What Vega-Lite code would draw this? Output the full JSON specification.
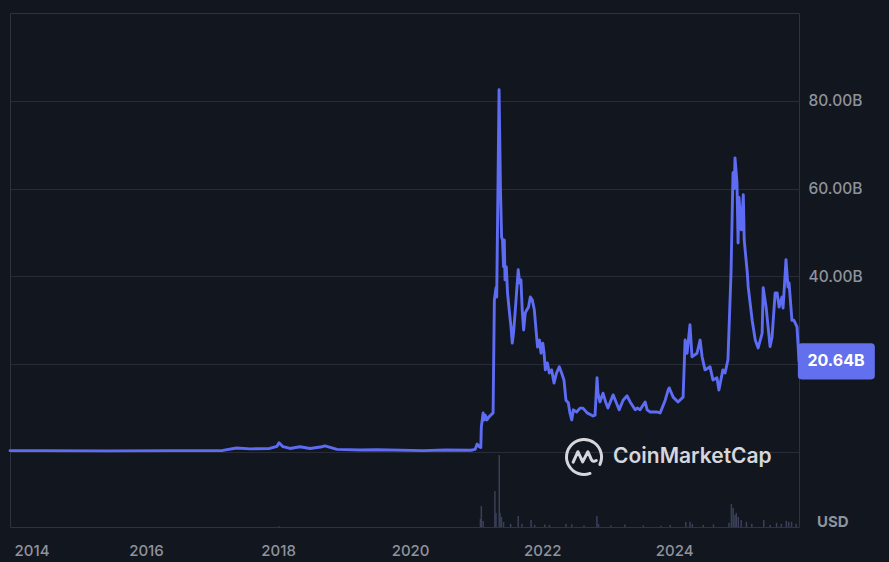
{
  "$schema": "https://vega.github.io/schema/vega-lite/v6.json",
  "width": 789,
  "height": 514,
  "autosize": {"type": "none"},
  "padding": {"left": 10, "top": 13, "right": 90, "bottom": 35},
  "background": "#12161f",
  "config": {
    "view": {"stroke": "#2f3340", "strokeWidth": 1},
    "font": "Inter"
  },
  "datasets": {
    "price": [
      {"date": "2013-12-10", "value": 0.3},
      {"date": "2014-06-01", "value": 0.3},
      {"date": "2015-06-01", "value": 0.25},
      {"date": "2016-06-01", "value": 0.3},
      {"date": "2017-03-01", "value": 0.35},
      {"date": "2017-05-17", "value": 0.9},
      {"date": "2017-08-01", "value": 0.7},
      {"date": "2017-11-15", "value": 0.8},
      {"date": "2017-12-26", "value": 1.3},
      {"date": "2018-01-06", "value": 2.1},
      {"date": "2018-01-28", "value": 1.2},
      {"date": "2018-03-08", "value": 0.8},
      {"date": "2018-05-01", "value": 1.2},
      {"date": "2018-06-27", "value": 0.8},
      {"date": "2018-09-01", "value": 1.2},
      {"date": "2018-09-17", "value": 1.4},
      {"date": "2018-11-23", "value": 0.6},
      {"date": "2019-04-01", "value": 0.45},
      {"date": "2019-07-01", "value": 0.5},
      {"date": "2020-03-15", "value": 0.3},
      {"date": "2020-07-15", "value": 0.45},
      {"date": "2020-12-01", "value": 0.4},
      {"date": "2020-12-26", "value": 0.6},
      {"date": "2021-01-06", "value": 1.8},
      {"date": "2021-01-17", "value": 1.2},
      {"date": "2021-01-26", "value": 1.0},
      {"date": "2021-01-29", "value": 5.7},
      {"date": "2021-02-08", "value": 8.9},
      {"date": "2021-02-15", "value": 7.3},
      {"date": "2021-02-20", "value": 8.4},
      {"date": "2021-03-01", "value": 7.3},
      {"date": "2021-03-12", "value": 8.0},
      {"date": "2021-04-04", "value": 8.9},
      {"date": "2021-04-11", "value": 34.6},
      {"date": "2021-04-20", "value": 37.4},
      {"date": "2021-04-24", "value": 35.3},
      {"date": "2021-05-07", "value": 82.5},
      {"date": "2021-05-15", "value": 59.7},
      {"date": "2021-05-21", "value": 49.0},
      {"date": "2021-05-26", "value": 48.3},
      {"date": "2021-06-01", "value": 42.2},
      {"date": "2021-06-05", "value": 48.3},
      {"date": "2021-06-09", "value": 39.2},
      {"date": "2021-06-16", "value": 42.2},
      {"date": "2021-06-23", "value": 36.2},
      {"date": "2021-07-02", "value": 32.4},
      {"date": "2021-07-12", "value": 28.5},
      {"date": "2021-07-19", "value": 24.8},
      {"date": "2021-07-26", "value": 27.1},
      {"date": "2021-08-05", "value": 32.4},
      {"date": "2021-08-14", "value": 37.6},
      {"date": "2021-08-21", "value": 41.5},
      {"date": "2021-08-29", "value": 38.5},
      {"date": "2021-09-05", "value": 39.2},
      {"date": "2021-09-12", "value": 32.4},
      {"date": "2021-09-20", "value": 27.8},
      {"date": "2021-09-29", "value": 31.7},
      {"date": "2021-10-08", "value": 32.4},
      {"date": "2021-10-17", "value": 33.0},
      {"date": "2021-10-27", "value": 35.3},
      {"date": "2021-11-07", "value": 34.6},
      {"date": "2021-11-18", "value": 32.4},
      {"date": "2021-11-29", "value": 27.1},
      {"date": "2021-12-06", "value": 23.9},
      {"date": "2021-12-17", "value": 25.5},
      {"date": "2021-12-25", "value": 22.5},
      {"date": "2022-01-04", "value": 24.8},
      {"date": "2022-01-11", "value": 22.5},
      {"date": "2022-01-18", "value": 18.7},
      {"date": "2022-01-29", "value": 20.3},
      {"date": "2022-02-09", "value": 18.0},
      {"date": "2022-02-22", "value": 18.7},
      {"date": "2022-03-07", "value": 15.7},
      {"date": "2022-03-21", "value": 18.0},
      {"date": "2022-04-05", "value": 19.4},
      {"date": "2022-04-18", "value": 18.0},
      {"date": "2022-05-01", "value": 16.4},
      {"date": "2022-05-12", "value": 11.8},
      {"date": "2022-05-25", "value": 11.2},
      {"date": "2022-06-03", "value": 8.9},
      {"date": "2022-06-13", "value": 7.3},
      {"date": "2022-06-22", "value": 9.6},
      {"date": "2022-07-10", "value": 9.1},
      {"date": "2022-07-29", "value": 10.0},
      {"date": "2022-08-14", "value": 10.0},
      {"date": "2022-09-06", "value": 8.9},
      {"date": "2022-10-09", "value": 8.2},
      {"date": "2022-10-20", "value": 8.4},
      {"date": "2022-10-31", "value": 16.9},
      {"date": "2022-11-05", "value": 13.4},
      {"date": "2022-11-16", "value": 11.4},
      {"date": "2022-12-03", "value": 13.4},
      {"date": "2022-12-19", "value": 11.2},
      {"date": "2022-12-30", "value": 10.0},
      {"date": "2023-01-28", "value": 13.0},
      {"date": "2023-02-13", "value": 11.4},
      {"date": "2023-03-02", "value": 9.6},
      {"date": "2023-03-24", "value": 11.8},
      {"date": "2023-04-15", "value": 12.8},
      {"date": "2023-05-02", "value": 11.4},
      {"date": "2023-05-30", "value": 9.6},
      {"date": "2023-06-10", "value": 10.0},
      {"date": "2023-06-26", "value": 9.6},
      {"date": "2023-07-24", "value": 11.4},
      {"date": "2023-08-04", "value": 9.6},
      {"date": "2023-08-21", "value": 9.1},
      {"date": "2023-09-29", "value": 9.1},
      {"date": "2023-10-15", "value": 8.9},
      {"date": "2023-11-12", "value": 11.8},
      {"date": "2023-11-28", "value": 14.1},
      {"date": "2023-12-04", "value": 14.6},
      {"date": "2023-12-26", "value": 12.5},
      {"date": "2024-01-22", "value": 11.4},
      {"date": "2024-02-19", "value": 12.5},
      {"date": "2024-03-01", "value": 25.5},
      {"date": "2024-03-12", "value": 22.5},
      {"date": "2024-03-28", "value": 29.0},
      {"date": "2024-04-08", "value": 21.7},
      {"date": "2024-05-06", "value": 22.5},
      {"date": "2024-05-23", "value": 25.5},
      {"date": "2024-06-03", "value": 21.7},
      {"date": "2024-06-19", "value": 18.7},
      {"date": "2024-07-17", "value": 19.4},
      {"date": "2024-08-02", "value": 16.4},
      {"date": "2024-08-24", "value": 16.9},
      {"date": "2024-09-04", "value": 14.1},
      {"date": "2024-09-26", "value": 18.7},
      {"date": "2024-10-08", "value": 18.0},
      {"date": "2024-10-24", "value": 21.0},
      {"date": "2024-11-10", "value": 40.8},
      {"date": "2024-11-21", "value": 63.6},
      {"date": "2024-11-28", "value": 60.0},
      {"date": "2024-12-02", "value": 67.0},
      {"date": "2024-12-13", "value": 61.3},
      {"date": "2024-12-19", "value": 47.6},
      {"date": "2024-12-24", "value": 58.0},
      {"date": "2025-01-06", "value": 50.6},
      {"date": "2025-01-17", "value": 58.6},
      {"date": "2025-01-22", "value": 48.3},
      {"date": "2025-02-08", "value": 40.8},
      {"date": "2025-02-13", "value": 37.6},
      {"date": "2025-03-07", "value": 30.0},
      {"date": "2025-03-24", "value": 25.5},
      {"date": "2025-04-09", "value": 23.7},
      {"date": "2025-05-01", "value": 27.0},
      {"date": "2025-05-07", "value": 37.4},
      {"date": "2025-05-23", "value": 33.0},
      {"date": "2025-06-03", "value": 28.5},
      {"date": "2025-06-14", "value": 24.0},
      {"date": "2025-06-25", "value": 26.2},
      {"date": "2025-07-12", "value": 36.2},
      {"date": "2025-07-23", "value": 36.2},
      {"date": "2025-08-03", "value": 33.0},
      {"date": "2025-08-19", "value": 35.3},
      {"date": "2025-08-25", "value": 32.8},
      {"date": "2025-09-10", "value": 43.8},
      {"date": "2025-09-21", "value": 37.6},
      {"date": "2025-09-27", "value": 38.5},
      {"date": "2025-10-13", "value": 30.0},
      {"date": "2025-10-24", "value": 30.0},
      {"date": "2025-11-10", "value": 28.5},
      {"date": "2025-11-21", "value": 20.64}
    ],
    "volume": [
      {"date": "2018-01-07", "vol": 0.8},
      {"date": "2021-01-24", "vol": 7.7},
      {"date": "2021-01-29", "vol": 20.0},
      {"date": "2021-02-08", "vol": 5.8},
      {"date": "2021-04-14", "vol": 34.5},
      {"date": "2021-04-20", "vol": 13.4},
      {"date": "2021-05-08", "vol": 69.0},
      {"date": "2021-05-12", "vol": 13.4},
      {"date": "2021-05-20", "vol": 9.6},
      {"date": "2021-06-01", "vol": 4.8},
      {"date": "2021-07-10", "vol": 3.0},
      {"date": "2021-08-21", "vol": 10.5},
      {"date": "2021-09-10", "vol": 3.0},
      {"date": "2021-10-31", "vol": 6.7},
      {"date": "2021-11-20", "vol": 2.0},
      {"date": "2022-01-15", "vol": 2.5},
      {"date": "2022-02-10", "vol": 2.0},
      {"date": "2022-05-12", "vol": 3.0},
      {"date": "2022-06-13", "vol": 2.5},
      {"date": "2022-08-20", "vol": 1.5},
      {"date": "2022-10-30", "vol": 10.5},
      {"date": "2022-11-08", "vol": 3.0},
      {"date": "2023-01-15", "vol": 1.5},
      {"date": "2023-04-03", "vol": 2.5},
      {"date": "2023-07-14", "vol": 1.5},
      {"date": "2023-10-20", "vol": 1.2},
      {"date": "2023-12-10", "vol": 2.0},
      {"date": "2024-03-05", "vol": 4.8},
      {"date": "2024-03-28", "vol": 5.0},
      {"date": "2024-04-10", "vol": 3.0},
      {"date": "2024-06-10", "vol": 2.0},
      {"date": "2024-08-05", "vol": 2.5},
      {"date": "2024-10-30", "vol": 4.0},
      {"date": "2024-11-12", "vol": 22.0},
      {"date": "2024-11-22", "vol": 18.0},
      {"date": "2024-12-02", "vol": 11.5},
      {"date": "2024-12-09", "vol": 13.5},
      {"date": "2024-12-20", "vol": 9.6},
      {"date": "2025-01-05", "vol": 6.7},
      {"date": "2025-02-03", "vol": 5.0},
      {"date": "2025-03-05", "vol": 3.0},
      {"date": "2025-05-10", "vol": 6.7},
      {"date": "2025-06-15", "vol": 2.0},
      {"date": "2025-07-20", "vol": 4.0},
      {"date": "2025-08-15", "vol": 3.0},
      {"date": "2025-09-12", "vol": 6.0},
      {"date": "2025-09-25", "vol": 5.0},
      {"date": "2025-10-11", "vol": 5.0},
      {"date": "2025-11-05", "vol": 3.0}
    ],
    "tag": [
      {"date": "2025-11-21", "value": 20.64, "label": "20.64B"}
    ],
    "watermark": [
      {"date": "2022-08-20", "value": -1.14, "label": "CoinMarketCap"}
    ],
    "unit": [
      {"date": "2025-11-21", "value": -15.95, "label": "USD"}
    ]
  },
  "encoding": {
    "x": {
      "field": "date",
      "type": "temporal",
      "scale": {"domain": ["2013-12-10", "2025-11-21"]},
      "axis": {
        "values": [{"year": 2014}, {"year": 2016}, {"year": 2018}, {"year": 2020}, {"year": 2022}, {"year": 2024}],
        "format": "%Y",
        "grid": false,
        "ticks": false,
        "domain": false,
        "labelPadding": 16,
        "labelFlush": 5,
        "labelColor": "#8f939c",
        "labelFontSize": 15,
        "labelFont": "Inter",
        "labelFontWeight": 500,
        "title": null
      }
    }
  },
  "layer": [
    {
      "data": {"name": "volume"},
      "mark": {"type": "rule", "color": "#3b4058", "strokeWidth": 1.5},
      "encoding": {
        "y": {"field": "vol", "type": "quantitative", "scale": {"domain": [0, 493], "nice": false}, "axis": null},
        "y2": {"datum": 0}
      }
    },
    {
      "encoding": {
        "y": {
          "field": "value",
          "type": "quantitative",
          "scale": {"domain": [-17.09, 100], "nice": false, "zero": false},
          "axis": {
            "orient": "right",
            "values": [0, 20, 40, 60, 80],
            "grid": true,
            "gridColor": "#282c37",
            "gridWidth": 1,
            "domain": false,
            "ticks": false,
            "labelPadding": 9,
            "labelColor": "#8f939c",
            "labelFontSize": 15.5,
            "labelFont": "Inter",
            "labelFontWeight": 500,
            "labelExpr": "datum.value >= 40 ? format(datum.value, '.2f') + 'B' : ''",
            "title": null
          }
        }
      },
      "layer": [
        {
          "data": {"name": "price"},
          "mark": {"type": "line", "color": "#5d6cf2", "strokeWidth": 2.9, "strokeJoin": "round", "strokeCap": "round"}
        },
        {
          "data": {"name": "watermark"},
          "mark": {
            "type": "point",
            "filled": false,
            "color": "#d5d7dc",
            "strokeWidth": 3,
            "strokeCap": "round",
            "strokeJoin": "round",
            "opacity": 1,
            "size": 1225,
            "shape": "M0.906,0.423 A1,1 0 1 0 0.342,0.94 M-0.62,0.3 L-0.35,-0.3 L-0.08,0.28 L0.22,-0.3 L0.42,0.15 Q0.5,0.32 0.7,0.2"
          }
        },
        {
          "data": {"name": "watermark"},
          "mark": {"type": "text", "align": "left", "baseline": "middle", "dx": 29, "fontSize": 21, "fontWeight": 600, "font": "Inter", "color": "#d5d7dc"},
          "encoding": {"text": {"field": "label"}}
        },
        {
          "data": {"name": "unit"},
          "mark": {"type": "text", "align": "left", "baseline": "middle", "dx": 18, "fontSize": 15, "fontWeight": "bold", "font": "Inter", "color": "#8f939c"},
          "encoding": {"text": {"field": "label"}}
        },
        {
          "data": {"name": "tag"},
          "mark": {
            "type": "point",
            "filled": true,
            "color": "#6270ee",
            "opacity": 1,
            "size": 5929,
            "shape": "M0.07,-0.47 L1.87,-0.47 Q1.97,-0.47 1.97,-0.37 L1.97,0.37 Q1.97,0.47 1.87,0.47 L0.07,0.47 Q-0.03,0.47 -0.03,0.37 L-0.03,-0.37 Q-0.03,-0.47 0.07,-0.47 Z"
          }
        },
        {
          "data": {"name": "tag"},
          "mark": {"type": "text", "align": "center", "baseline": "middle", "dx": 37, "fontSize": 16, "fontWeight": "bold", "font": "Inter", "color": "#ffffff"},
          "encoding": {"text": {"field": "label"}}
        }
      ]
    }
  ],
  "resolve": {"scale": {"y": "independent"}}
}
